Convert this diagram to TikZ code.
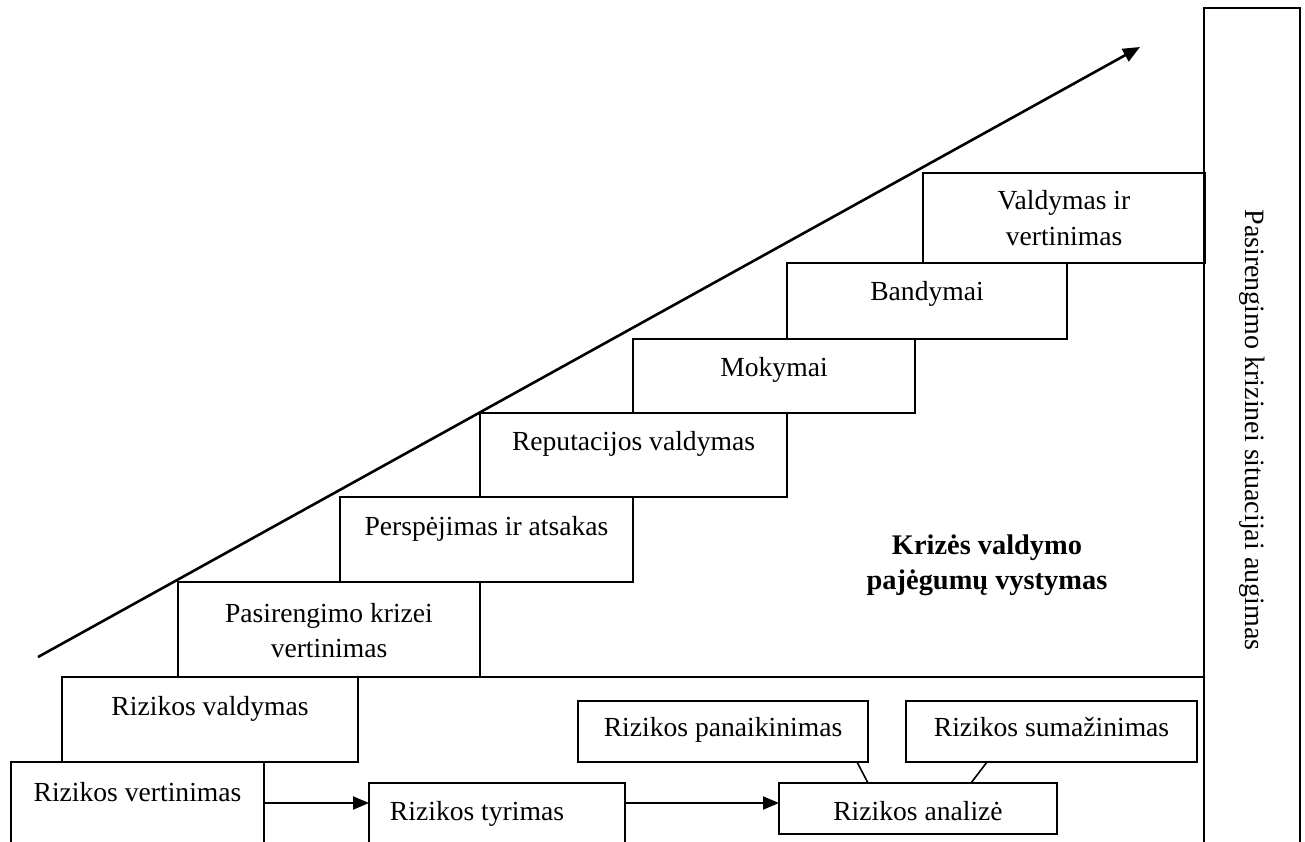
\documentclass[tikz,border=0pt]{standalone}
\usepackage{fontspec}
\setmainfont{Liberation Serif}
\usetikzlibrary{fit,calc,arrows.meta}

\tikzset{
  box/.style={draw, line width=0.9pt, inner sep=0pt, outer sep=0pt},
  lbl/.style={font=\fontsize{13.8}{17.5}\selectfont, align=center, inner sep=0pt, anchor=base},
  flow/.style={line width=1pt, -{Triangle[length=8pt,width=6.5pt]}},
  tie/.style={line width=0.8pt},
  rise/.style={line width=1.3pt, -{Triangle[length=8.5pt,width=7pt]}},
}

% rectangle node spanning two corners given in pixel units
\newcommand\mkbox[5]{\node[box, fit={(#2,#3) (#4,#5)}] (#1) {};}

\begin{document}
\begin{tikzpicture}[x=0.5pt, y=-0.5pt]
\clip (0,0) rectangle (1305,841);
\fill[white] (0,0) rectangle (1305,841);

% side column
\mkbox{col}{1204}{8}{1300}{880}
\node[lbl, anchor=center, rotate=-90, font=\fontsize{14}{17.5}\selectfont] (colt) at (1252,430) {Pasirengimo krizinei situacijai augimas};

% staircase of stages
\mkbox{vv}{923}{173}{1205}{263}
\mkbox{band}{787}{263}{1067}{339}
\mkbox{mok}{633}{339}{915}{413}
\mkbox{rep}{480}{413}{787}{497}
\mkbox{persp}{340}{497}{633}{582}
\mkbox{pas}{178}{582}{480}{677}
\mkbox{rval}{62}{677}{358}{762}
\mkbox{rvert}{11}{762}{264}{880}

% risk process boxes
\mkbox{rtyr}{369}{783}{625}{880}
\mkbox{ran}{779}{783}{1057}{834}
\mkbox{rpan}{578}{701}{868}{762}
\mkbox{rsum}{906}{701}{1197}{762}

% base line of the capability area
\draw[box] (rval.north east) -- (rval.north east -| col.west);

% labels (two-line labels are anchored on their last baseline)
\node[lbl, font=\fontsize{13.8}{18}\selectfont] (vvt) at ($(vv.north)+(0,72)$) {Valdymas ir\\vertinimas};
\node[lbl] (bandt) at ($(band.north)+(0,37)$) {Bandymai};
\node[lbl] (mokt) at ($(mok.north)+(0,37)$) {Mokymai};
\node[lbl] (rept) at ($(rep.north)+(0,37)$) {Reputacijos valdymas};
\node[lbl] (perspt) at ($(persp.north)+(0,38)$) {Perspėjimas ir atsakas};
\node[lbl] (past) at ($(pas.north)+(0,75)$) {Pasirengimo krizei\\vertinimas};
\node[lbl] (rvalt) at ($(rval.north)+(0,38)$) {Rizikos valdymas};
\node[lbl] (rvertt) at ($(rvert.north)+(0,39)$) {Rizikos vertinimas};
\node[lbl] (rtyrt) at ($(rtyr.north)+(-20,37)$) {Rizikos tyrimas};
\node[lbl] (rant) at ($(ran.north)+(0,37)$) {Rizikos analizė};
\node[lbl] (rpant) at ($(rpan.north)+(0,35)$) {Rizikos panaikinimas};
\node[lbl] (rsumt) at ($(rsum.north)+(0,35)$) {Rizikos sumažinimas};
\node[lbl, font=\fontsize{14.2}{17.5}\selectfont\bfseries] (title) at (987,589) {Krizės valdymo\\pajėgumų vystymas};

% growth arrow
\coordinate (a0) at (38,657);
\coordinate (a1) at (1140,47);
\draw[rise] (a0) -- (a1);

% flow between risk steps
\path ([yshift=-10pt]rtyr.north west) coordinate (tyrIn);
\path ([yshift=-10pt]ran.north west) coordinate (anIn);
\draw[flow] (rvert.east |- tyrIn) -- (tyrIn);
\draw[flow] (rtyr.east |- anIn) -- (anIn);

% ties from outcomes to analysis
\draw[tie] ([xshift=-5.5pt]rpan.south east) -- ([xshift=44.5pt]ran.north west);
\draw[tie] ([xshift=40.5pt]rsum.south west) -- ([xshift=96pt]ran.north west);
\end{tikzpicture}
\end{document}
